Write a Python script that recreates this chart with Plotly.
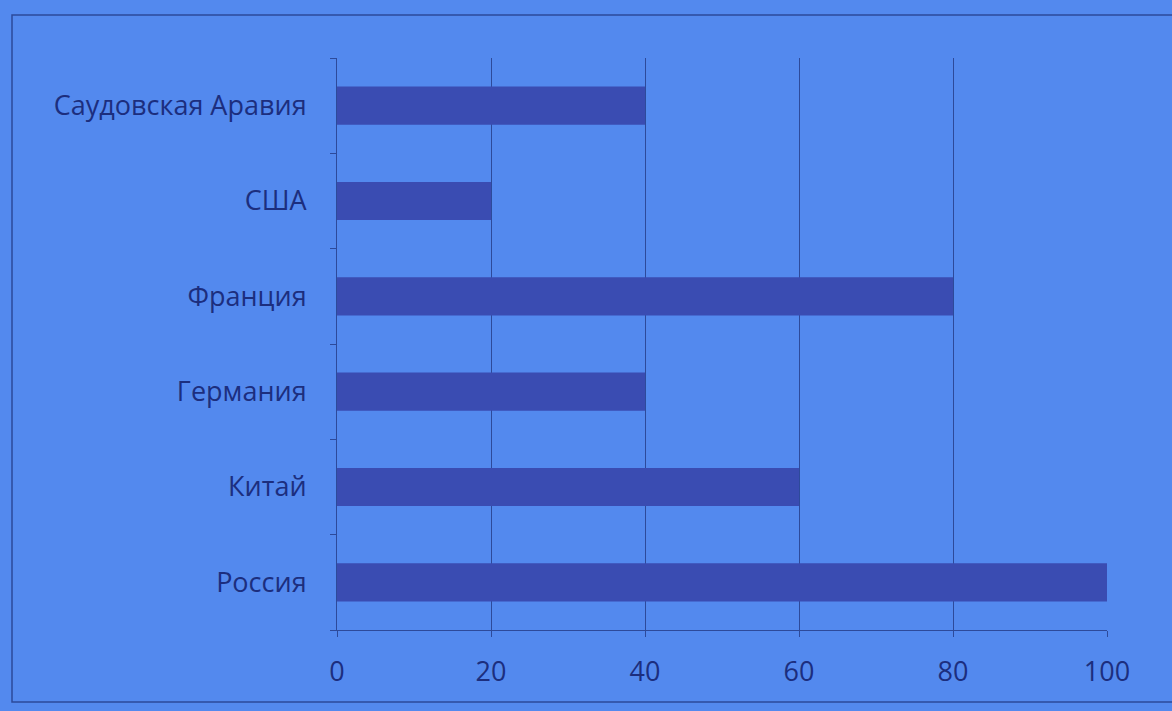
import plotly.graph_objects as go

countries = ["Россия", "Китай", "Германия", "Франция", "США", "Саудовская Аравия"]
values = [100, 60, 40, 80, 20, 40]
tick_vals = [0, 20, 40, 60, 80, 100]

bg = "#5389ee"
bar_color = "#3a4cb2"
text_color = "#1c2e7e"
line_color = "#2d4a9a"

fig = go.Figure(go.Bar(
    x=values, y=countries, orientation="h",
    marker=dict(color=bar_color, line=dict(width=0)),
    width=0.4,
))

W, H = 1172, 711
l, r, t, b = 337, 65, 58, 81
pw, ph = W - l - r, H - t - b

fig.update_layout(
    width=W, height=H,
    margin=dict(l=l, r=r, t=t, b=b),
    paper_bgcolor=bg, plot_bgcolor=bg,
    showlegend=False,
    font=dict(family="Open Sans", size=27, color=text_color),
    xaxis=dict(
        range=[0, 100], tickvals=tick_vals, showgrid=True,
        gridcolor=line_color, gridwidth=1,
        showline=True, linecolor=line_color, linewidth=1,
        ticks="outside", ticklen=6, tickcolor=line_color,
        zeroline=False, tickfont=dict(size=27),
        ticklabelstandoff=12,
    ),
    yaxis=dict(
        showgrid=False, showline=True, linecolor=line_color, linewidth=1,
        ticks="outside", ticklen=6, tickcolor=line_color, tickson="boundaries",
        tickfont=dict(size=27), ticklabelstandoff=24,
    ),
    shapes=[dict(
        type="rect", xref="paper", yref="paper",
        x0=(12 - l) / pw, x1=(W + 20 - l) / pw,
        y0=(H - 702 - b) / ph, y1=(H - 15 - b) / ph,
        line=dict(color=line_color, width=1.5), fillcolor="rgba(0,0,0,0)",
    )],
)

fig.write_html(
    "out.html",
    config={"displayModeBar": False},
    post_script="document.body.style.margin='0';document.body.style.background='%s';" % bg,
)
